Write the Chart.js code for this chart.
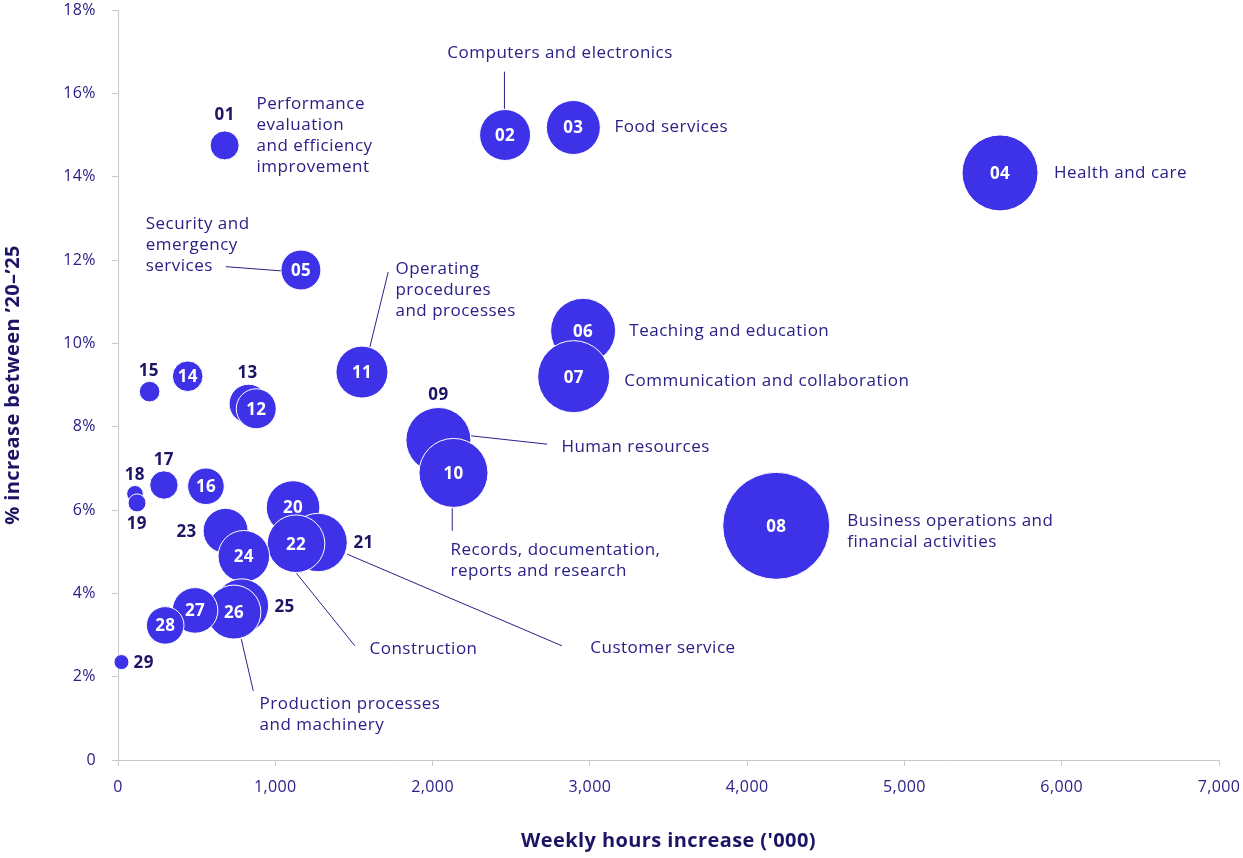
<!DOCTYPE html>
<html><head><meta charset="utf-8">
<script src="https://cdn.jsdelivr.net/npm/chart.js@4.4.1/dist/chart.umd.min.js"></script>
<style>html,body{margin:0;padding:0;background:#fff}#wrap{width:1243px;height:858px}</style>
</head><body><div id="wrap"><canvas id="c" width="1243" height="858"></canvas></div>
<script>
// ---- data ----
const ids = ['01','02','03','04','05','06','07','08','09','10','11','12','13','14','15','16','17','18','19','20','21','22','23','24','25','26','27','28','29'];
const weeklyHours = [678,2461,2895,5608,1163,2957,2897,4185,2037,2133,1551,879,830,443,201,559,292,108,121,1113,1272,1132,684,800,786,737,490,300,22];
const pctIncrease = [14.75,15.0,15.18,14.09,11.76,10.30,9.20,5.62,7.68,6.89,9.31,8.43,8.55,9.21,8.84,6.57,6.60,6.39,6.17,6.06,5.22,5.19,5.50,4.89,3.70,3.55,3.59,3.23,2.35];
const bubbleSize = [14.5,25.5,27,38,20,32.5,36,53.5,32.5,34.5,26,20,19.5,15.3,10.3,18.3,14.2,8.3,9,26.8,29.2,28.8,22.5,25.8,27,27,22.8,18.8,7.5];
const xTickValues = [0,1000,2000,3000,4000,5000,6000,7000];
const yTickValues = [0,2,4,6,8,10,12,14,16,18];
const insideIds = ['02','03','04','05','06','07','08','10','11','12','14','16','20','22','24','26','27','28'];
const xTitle = "Weekly hours increase ('000)";
const yTitle = "% increase between \u201920\u2013\u201925";

// draw order (13 sits beneath 12)
const drawOrder = [0,1,2,3,4,5,6,7,8,9,10,12,11,13,14,15,16,17,18,19,20,21,22,23,24,25,26,27,28];

// ---- annotation layout (data coordinates) ----
const callouts = [
  {lines:['Performance','evaluation','and efficiency','improvement'], x:881, y:15.75},
  {lines:['Computers and electronics'], x:2094, y:16.97, leader:[2457,16.52,2457,15.63]},
  {lines:['Food services'], x:3156, y:15.20},
  {lines:['Health and care'], x:5951, y:14.09},
  {lines:['Security and','emergency','services'], x:176, y:12.87, leader:[685,11.84,1035,11.74]},
  {lines:['Operating','procedures','and processes'], x:1764, y:11.79, leader:[1718,11.71,1601,9.91]},
  {lines:['Teaching and education'], x:3251, y:10.30},
  {lines:['Communication and collaboration'], x:3219, y:9.10},
  {lines:['Human resources'], x:2819, y:7.52, leader:[2245,7.78,2728,7.58]},
  {lines:['Records, documentation,','reports and research'], x:2114, y:5.04, leader:[2125,6.04,2125,5.50]},
  {lines:['Business operations and','financial activities'], x:4636, y:5.74},
  {lines:['Production processes','and machinery'], x:900, y:1.34, leader:[784,2.90,860,1.66]},
  {lines:['Construction'], x:1599, y:2.67, leader:[1135,4.48,1506,2.74]},
  {lines:['Customer service'], x:3003, y:2.69, leader:[1457,4.94,2823,2.74]}
];
const outsideNumbers = [
  {id:'01', x:678, y:15.51}, {id:'09', x:2037, y:8.79}, {id:'13', x:824, y:9.32},
  {id:'15', x:195, y:9.36}, {id:'17', x:291, y:7.23}, {id:'18', x:106, y:6.87},
  {id:'19', x:119, y:5.69}, {id:'21', x:1561, y:5.23}, {id:'23', x:436, y:5.50},
  {id:'25', x:1059, y:3.70}, {id:'29', x:163, y:2.35}
];

const FONT = "'Open Sans', 'DejaVu Sans', sans-serif";
const BUBBLE = '#3d32e8';
const TEXT = '#2a2088';
const NUM = '#1c1464';
const AXIS = '#c8c8c8';

const points = drawOrder.map(i => ({x: weeklyHours[i], y: pctIncrease[i], r: bubbleSize[i], id: ids[i]}));

const spacing = {
  id: 'spacing',
  beforeDraw(chart) { chart.ctx.letterSpacing = '0.4px'; }
};

const annotate = {
  id: 'annotate',
  afterDatasetsDraw(chart) {
    const {ctx, scales:{x, y}} = chart;
    ctx.save();
    ctx.strokeStyle = TEXT; ctx.lineWidth = 1;
    callouts.forEach(c => {
      if (!c.leader) return;
      const [a,b,cc,d] = c.leader;
      ctx.beginPath();
      ctx.moveTo(x.getPixelForValue(a), y.getPixelForValue(b));
      ctx.lineTo(x.getPixelForValue(cc), y.getPixelForValue(d));
      ctx.stroke();
    });
    ctx.letterSpacing = '0.5px';
    ctx.fillStyle = TEXT; ctx.font = '17px ' + FONT;
    ctx.textAlign = 'left'; ctx.textBaseline = 'middle';
    callouts.forEach(c => {
      const px = x.getPixelForValue(c.x), py = y.getPixelForValue(c.y);
      c.lines.forEach((t, k) => ctx.fillText(t, px, py + k * 21));
    });
    const meta = chart.getDatasetMeta(0);
    ctx.letterSpacing = '0.3px';
    ctx.font = 'bold 17px ' + FONT; ctx.textAlign = 'center'; ctx.fillStyle = '#ffffff';
    meta.data.forEach((el, i) => {
      const id = points[i].id;
      if (insideIds.includes(id)) ctx.fillText(id, el.x, el.y + 1);
    });
    ctx.fillStyle = NUM;
    outsideNumbers.forEach(n => ctx.fillText(n.id, x.getPixelForValue(n.x), y.getPixelForValue(n.y) + 1));
    ctx.restore();
  }
};

new Chart(document.getElementById('c'), {
  type: 'bubble',
  data: { datasets: [{
    data: points,
    backgroundColor: BUBBLE,
    borderColor: '#ffffff',
    borderWidth: 1,
    hoverBorderWidth: 1,
    clip: false
  }]},
  options: {
    responsive: false,
    animation: false,
    devicePixelRatio: 1,
    layout: { autoPadding: false, padding: {top: 10, right: 24, bottom: 0, left: 0} },
    plugins: { legend: {display: false}, tooltip: {enabled: false} },
    scales: {
      x: {
        type: 'linear', min: 0, max: 7000,
        afterFit: s => { s.height = 98; s.paddingLeft = 0; s.paddingRight = 0; },
        afterBuildTicks: s => { s.ticks = xTickValues.map(v => ({value: v})); },
        border: {color: AXIS, width: 1},
        grid: {drawOnChartArea: false, drawTicks: true, tickLength: 6, color: AXIS},
        ticks: {padding: 12, color: TEXT, font: {family: FONT, size: 16},
          callback: v => v.toLocaleString('en-US')},
        title: {display: true, text: xTitle, color: NUM, font: {family: FONT, size: 20, weight: 'bold'}, padding: {top: 0, bottom: 5}}
      },
      y: {
        type: 'linear', min: 0, max: 18,
        afterFit: s => { s.width = 118; s.paddingTop = 0; s.paddingBottom = 0; },
        afterBuildTicks: s => { s.ticks = yTickValues.map(v => ({value: v})); },
        border: {color: AXIS, width: 1},
        grid: {drawOnChartArea: false, drawTicks: true, tickLength: 6, color: AXIS},
        ticks: {padding: 16, color: TEXT, font: {family: FONT, size: 16},
          callback: v => v === 0 ? '0' : v + '%'},
        title: {display: true, text: yTitle, color: NUM, font: {family: FONT, size: 20, weight: 'bold'}, padding: {top: 1, bottom: 0}}
      }
    }
  },
  plugins: [spacing, annotate]
});
</script></body></html>
